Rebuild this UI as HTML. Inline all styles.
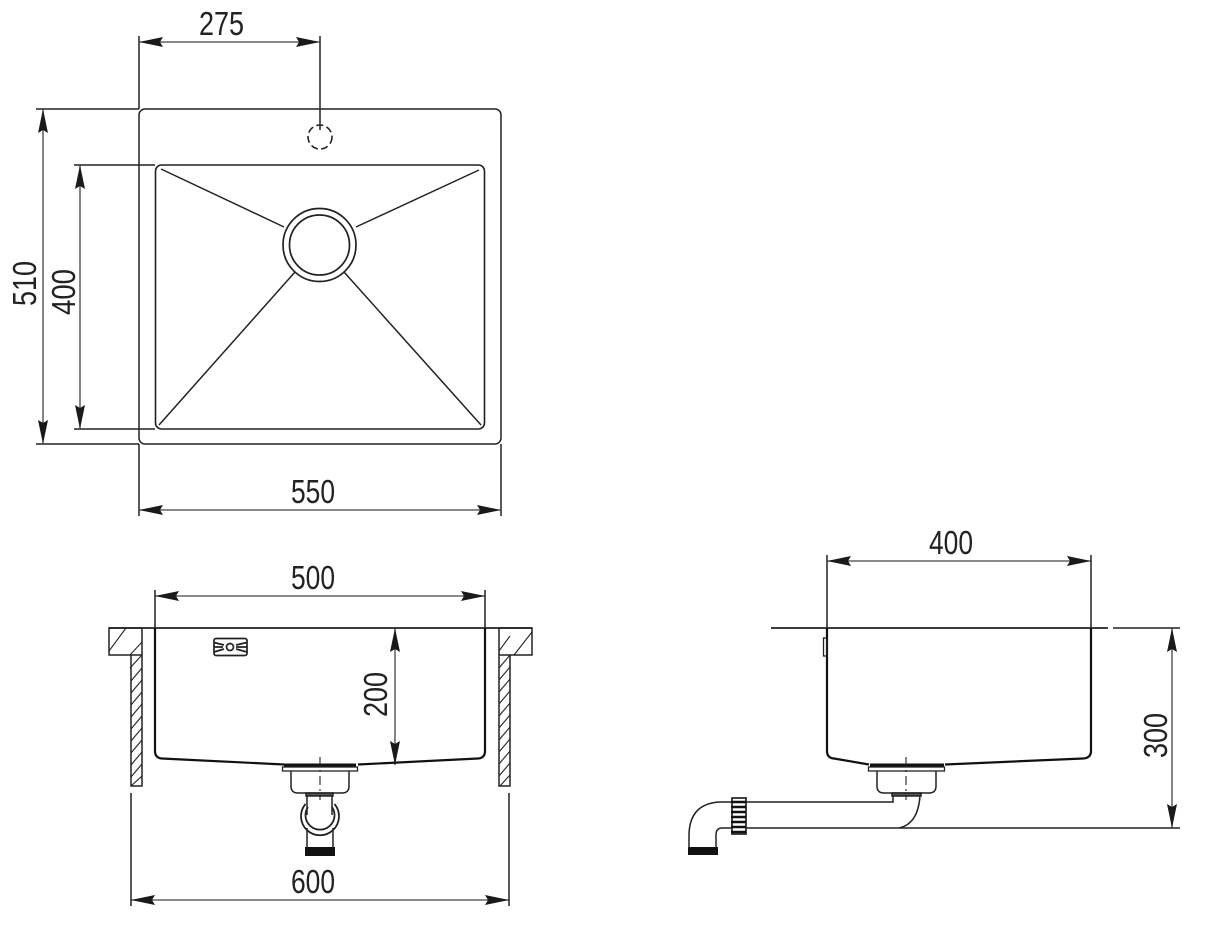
<!DOCTYPE html>
<html><head><meta charset="utf-8"><style>html,body{margin:0;padding:0;background:#fff}svg{display:block}text{font-family:"Liberation Sans",sans-serif;font-size:33px;fill:#222}</style></head><body>
<svg width="1220" height="933" viewBox="0 0 1220 933" xmlns="http://www.w3.org/2000/svg">
<defs>
<marker id="a" viewBox="0 0 24 10" refX="24" refY="5" markerWidth="24" markerHeight="10" markerUnits="userSpaceOnUse" orient="auto-start-reverse"><path d="M24 5L0 0L3 5L0 10Z" fill="#1a1a1a"/></marker>
<clipPath id="c1"><rect x="109" y="628" width="33" height="158"/></clipPath>
<clipPath id="c2"><rect x="499" y="628" width="33" height="158"/></clipPath>
</defs>
<g fill="none" stroke="#222" stroke-width="1.5">
<!-- top view -->
<rect x="139" y="109" width="362" height="335" rx="6"/>
<rect x="155.500" y="165" width="329" height="264" rx="6" stroke-width="1.6"/>
<circle cx="319.500" cy="245" r="36.500" stroke-width="1.7"/>
<circle cx="319.500" cy="245" r="30" stroke-width="1.7"/>
<circle cx="320" cy="137" r="12" stroke-dasharray="7 3.500" stroke-width="1.6"/>
<path d="M161 169L284 227M479 170L356 227M295 272L159 425M344 272L481 425"/>
<path d="M139 36V109M320 36V130M36 109H139M36 444H139M74 165H155M74 429H155M139 444V516M501 444V516"/>
<g stroke="#444" stroke-width="1.3">
<path d="M139 42H320" marker-start="url(#a)" marker-end="url(#a)"/>
<path d="M43 109V444" marker-start="url(#a)" marker-end="url(#a)"/>
<path d="M80 165V429" marker-start="url(#a)" marker-end="url(#a)"/>
<path d="M139 510H501" marker-start="url(#a)" marker-end="url(#a)"/>
<path d="M155 596H485" marker-start="url(#a)" marker-end="url(#a)"/>
<path d="M395 628V765" marker-start="url(#a)" marker-end="url(#a)"/>
<path d="M131 900H509" marker-start="url(#a)" marker-end="url(#a)"/>
<path d="M827 561H1091" marker-start="url(#a)" marker-end="url(#a)"/>
<path d="M1172 628V828" marker-start="url(#a)" marker-end="url(#a)"/>
</g>
<!-- front view -->
<path d="M155 590V628M485 590V628M131 793V906M509 793V906"/>
<path d="M109 628H532" stroke-width="1.800"/>
<path d="M109 628H142V655H109ZM131 655V786H142V655M499 628H532V655H499ZM499 655V786H510V655"/>
<g clip-path="url(#c1)" stroke-width="1.100">
<path d="M109 651L126 628M130 668L142 655M131 681L142 668M131 693L142 680M131 705L142 692M131 717L142 704M131 729L142 716M131 741L142 728M131 753L142 740M131 765L142 752M131 777L142 764M131 786L142 776M130 655L142 642"/>
</g>
<g clip-path="url(#c2)" stroke-width="1.100">
<path d="M499 651L510 636M514 655L532 632M499 668L510 655M499 680L510 667M499 692L510 679M499 704L510 691M499 716L510 703M499 728L510 715M499 740L510 727M499 752L510 739M499 764L510 751M499 776L510 763M500 786L510 775"/>
</g>
<path d="M155 628V751Q155 758 162 758.500L284 764.500M358 764.500L478 758.500Q485 758 485 751V628" stroke="#111" stroke-width="2.200"/>
<rect x="214" y="638.500" width="33" height="17" rx="2" stroke-width="1.700"/>
<path d="M214 642.500L224 645M214 652L224 649M214 647H223M247 642.500L236 645M247 652L236 649M247 647H236" stroke-width="1.700"/>
<circle cx="230" cy="647" r="3.500" stroke-width="1.700"/>
<rect x="284" y="763.500" width="72" height="4" fill="#111" stroke="none"/>
<rect x="282.500" y="767" width="75" height="4" stroke-width="1.300"/>
<path d="M291 771V786Q291 793 298 793H342Q349 793 349 786V771" stroke-width="1.500"/>
<path d="M306 793H333V796H306Z" fill="#555"/>
<path d="M307 796V815M332 796V815M307 828V848M333 828V848"/>
<path d="M305.500 804A19 19 0 1 0 334.500 804" stroke-width="1.800"/>
<path d="M308 807A14.500 14.500 0 1 0 332 807" stroke-width="1.800"/>
<rect x="305" y="847" width="30" height="9" fill="#111" stroke="none"/>
<path d="M320 757V800" stroke-dasharray="9 4 2 4" stroke-width="1.100"/>
<!-- side view -->
<path d="M827 555V628M1091 555V628M1113 628H1180M900 828H1180"/>
<path d="M771 628H1108" stroke-width="1.800"/>
<path d="M827 628V751Q827 758 834 758.500L869 764.500M945 764.500L1083 758.500Q1091 758 1091 751V628" stroke="#111" stroke-width="2.200"/>
<rect x="823.500" y="638" width="3.500" height="18" stroke-width="1.300"/>
<rect x="870" y="763.500" width="74" height="4" fill="#111" stroke="none"/>
<rect x="868.500" y="767" width="76" height="4" stroke-width="1.300"/>
<path d="M877 771V786Q877 793 884 793H929Q936 793 936 786V771" stroke-width="1.500"/>
<path d="M892 793H921V796H892Z" fill="#555"/>
<path d="M746 802H893V796M746 828H899Q918 824 920 796" stroke-width="1.500"/>
<rect x="732" y="798" width="14" height="36" fill="#fff" stroke-width="1.700"/>
<path d="M731 802H746M731 807H746M731 812H746M731 817H746M731 822H746M731 827H746M731 832H746" stroke="#111" stroke-width="2.600"/>
<path d="M731 802H719Q689 804 689 836V848M731 828H722Q716 828 716 835V848" stroke-width="1.500"/>
<rect x="688" y="847" width="30" height="8" fill="#111" stroke="none"/>
<path d="M906 757V800" stroke-dasharray="9 4 2 4" stroke-width="1.100"/>
</g>
<text x="199" y="35" textLength="45" lengthAdjust="spacingAndGlyphs">275</text>
<text x="291" y="503" textLength="44" lengthAdjust="spacingAndGlyphs">550</text>
<text x="291" y="589" textLength="44" lengthAdjust="spacingAndGlyphs">500</text>
<text x="291" y="893" textLength="44" lengthAdjust="spacingAndGlyphs">600</text>
<text x="929" y="554" textLength="44" lengthAdjust="spacingAndGlyphs">400</text>
<text transform="translate(36 306) rotate(-90)" textLength="45" lengthAdjust="spacingAndGlyphs">510</text>
<text transform="translate(75 315) rotate(-90)" textLength="46" lengthAdjust="spacingAndGlyphs">400</text>
<text transform="translate(387 717) rotate(-90)" textLength="45" lengthAdjust="spacingAndGlyphs">200</text>
<text transform="translate(1167 758) rotate(-90)" textLength="45" lengthAdjust="spacingAndGlyphs">300</text>
</svg>
</body></html>
